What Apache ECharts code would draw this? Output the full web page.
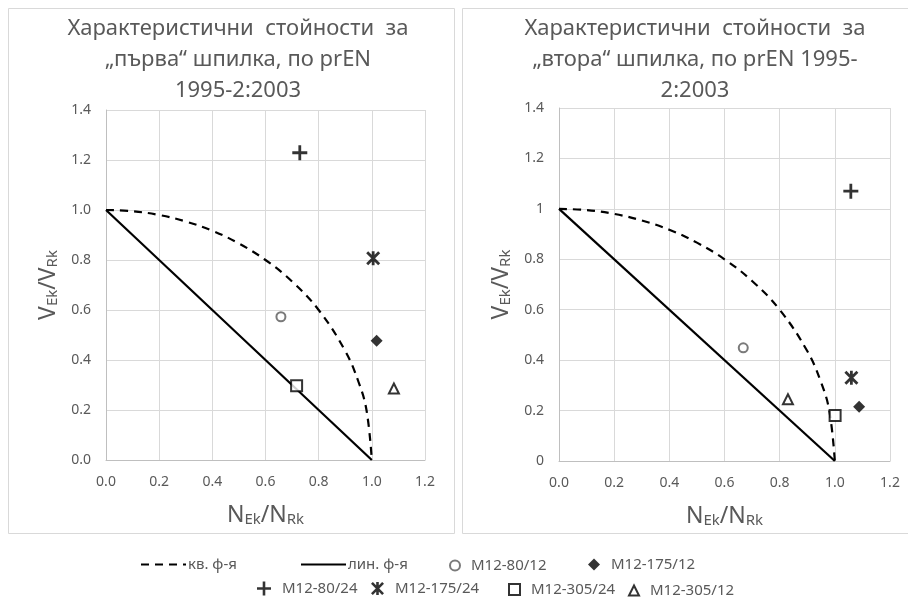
<!DOCTYPE html>
<html>
<head>
<meta charset="utf-8">
<script src="https://cdn.jsdelivr.net/npm/echarts@6/dist/echarts.min.js"></script>
<style>html,body{margin:0;padding:0;background:#fff;}#c{width:908px;height:602px;}</style>
</head>
<body>
<div id="c"></div>
<script>
// ---- data ----
const xTicks = [0, 0.2, 0.4, 0.6, 0.8, 1.0, 1.2];
const yTicks = [0, 0.2, 0.4, 0.6, 0.8, 1.0, 1.2, 1.4];
const titleLeft = 'Характеристични  стойности  за\n„първа“ шпилка, по prEN\n1995-2:2003';
const titleRight = 'Характеристични  стойности  за\n„втора“ шпилка, по prEN 1995-\n2:2003';
// interaction curves
const quadCurve = [[0,1],[0.1,0.995],[0.2,0.98],[0.3,0.954],[0.4,0.917],[0.5,0.866],[0.6,0.8],[0.7,0.714],[0.8,0.6],[0.9,0.436],[0.95,0.312],[0.98,0.199],[1.0,0]];
const linCurve = [[0,1],[1,0]];
// left chart points ("първа")
const L_80_12 = [[0.658, 0.573]];
const L_175_12 = [[1.018, 0.477]];
const L_80_24 = [[0.729, 1.229]];
const L_175_24 = [[1.005, 0.807]];
const L_305_24 = [[0.717, 0.297]];
const L_305_12 = [[1.083, 0.286]];
// right chart points ("втора")
const R_80_12 = [[0.668, 0.449]];
const R_175_12 = [[1.088, 0.215]];
const R_80_24 = [[1.058, 1.07]];
const R_175_24 = [[1.06, 0.33]];
const R_305_24 = [[1.001, 0.18]];
const R_305_12 = [[0.83, 0.245]];

const names = {q:'кв. ф-я', l:'лин. ф-я', a:'M12-80/12', b:'M12-175/12', c:'M12-80/24', d:'M12-175/24', e:'M12-305/24', f:'M12-305/12'};

// ---- styles ----
const FONT = 'Noto Sans';
const GRAY = '#595959';
const plusPath = 'path://M-1.3,-7 L1.3,-7 L1.3,-1.3 L7,-1.3 L7,1.3 L1.3,1.3 L1.3,7 L-1.3,7 L-1.3,1.3 L-7,1.3 L-7,-1.3 L-1.3,-1.3 Z';
const starPath = 'path://M-1.4,-7 L1.4,-7 L1.4,7 L-1.4,7 Z M-5,-7 L7,5 L5,7 L-7,-5 Z M5,-7 L7,-5 L-5,7 L-7,5 Z';

const mk = {
  a: {symbol:'emptyCircle', symbolSize:9, itemStyle:{color:GRAY, borderColor:GRAY, borderWidth:1}},
  b: {symbol:'diamond', symbolSize:12, itemStyle:{color:'#000'}},
  c: {symbol:plusPath, symbolSize:15, itemStyle:{color:'#000'}},
  d: {symbol:starPath, symbolSize:14, itemStyle:{color:'#000'}},
  e: {symbol:'emptyRect', symbolSize:11, itemStyle:{color:'#000', borderColor:'#000', borderWidth:1}},
  f: {symbol:'emptyTriangle', symbolSize:10, itemStyle:{color:'#000', borderColor:'#000', borderWidth:1}}
};

function scat(key, data, idx){
  return Object.assign({type:'scatter', name:names[key], data:data, xAxisIndex:idx, yAxisIndex:idx, z:5}, mk[key]);
}
function lines(idx){
  return [
    {type:'line', name:names.q, data:quadCurve, smooth:0.4, symbol:'none', xAxisIndex:idx, yAxisIndex:idx,
     lineStyle:{color:'#000', width:2.2, type:[8,6]}, itemStyle:{color:'#000'}},
    {type:'line', name:names.l, data:linCurve, symbol:'none', xAxisIndex:idx, yAxisIndex:idx,
     lineStyle:{color:'#000', width:2.2}, itemStyle:{color:'#000'}}
  ];
}
const nameRich = {
  m:{fontFamily:FONT, fontSize:23, color:GRAY, lineHeight:28, verticalAlign:'bottom'},
  s:{fontFamily:FONT, fontSize:15, color:GRAY, lineHeight:20, verticalAlign:'bottom'}
};
function xAx(idx){
  return {type:'value', gridIndex:idx, min:xTicks[0], max:xTicks[xTicks.length-1], interval:0.2,
    axisLine:{show:true, onZero:false, lineStyle:{color:'#bfbfbf'}}, axisTick:{show:false},
    splitLine:{show:true, lineStyle:{color:'#d9d9d9'}},
    axisLabel:{color:GRAY, fontFamily:FONT, fontSize:14, margin:15, formatter:v=>v.toFixed(1)},
    name:'{m|N}{s|Ek}{m|/N}{s|Rk}', nameLocation:'middle', nameGap:39,
    nameTextStyle:{rich:nameRich}
  };
}
function yAx(idx, fmt){
  return {type:'value', gridIndex:idx, min:yTicks[0], max:yTicks[yTicks.length-1], interval:0.2,
    axisLine:{show:true, onZero:false, lineStyle:{color:'#bfbfbf'}}, axisTick:{show:false},
    splitLine:{show:true, lineStyle:{color:'#d9d9d9'}},
    axisLabel:{color:GRAY, fontFamily:FONT, fontSize:14, margin:15, formatter:fmt},
    name:'{m|V}{s|Ek}{m|/V}{s|Rk}', nameLocation:'middle', nameGap:46, nameRotate:90,
    nameTextStyle:{rich:nameRich}
  };
}

const legText = {color:GRAY, fontFamily:FONT, fontSize:15};
function leg(name, left, top, w, h, isLine){
  const o = {data:[isLine ? {name:name, itemStyle:{opacity:0}} : name], left:left, top:top, padding:0,
    itemWidth:w, itemHeight:h, selectedMode:false,
    textStyle:Object.assign({padding:isLine ? [0,0,0,-3] : [0,0,0,6]}, legText)};
  return o;
}

const option = {
  animation:false,
  backgroundColor:'#fff',
  graphic:[
    {type:'rect', shape:{x:8.5, y:8.5, width:446, height:525}, style:{fill:'none', stroke:'#d9d9d9', lineWidth:1}, silent:true, z:-10},
    {type:'rect', shape:{x:462.5, y:8.5, width:450, height:525}, style:{fill:'none', stroke:'#d9d9d9', lineWidth:1}, silent:true, z:-10}
  ],
  title:[
    {text:titleLeft, left:233, top:8, textAlign:'center', textStyle:{fontFamily:FONT, fontSize:22, fontWeight:'normal', color:GRAY, lineHeight:31}},
    {text:titleRight, left:690, top:8, textAlign:'center', textStyle:{fontFamily:FONT, fontSize:22, fontWeight:'normal', color:GRAY, lineHeight:31}}
  ],
  grid:[
    {left:106, top:110, width:319, height:350},
    {left:559, top:108, width:331, height:353}
  ],
  xAxis:[xAx(0), xAx(1)],
  yAxis:[yAx(0, v=>v.toFixed(1)), yAx(1, v=>String(Math.round(v*10)/10))],
  legend:[
    leg(names.q, 140, 557, 45, 14, true),
    leg(names.l, 300, 557, 45, 14, true),
    leg(names.a, 449, 558, 10, 10, false),
    leg(names.b, 588, 557, 12, 12, false),
    leg(names.c, 257, 581, 14, 14, false),
    leg(names.d, 371, 581, 13, 13, false),
    leg(names.e, 508, 582, 11, 11, false),
    leg(names.f, 628, 583, 10, 10, false)
  ],
  series:[
    ...lines(0), ...lines(1),
    scat('a', L_80_12, 0), scat('b', L_175_12, 0), scat('c', L_80_24, 0), scat('d', L_175_24, 0), scat('e', L_305_24, 0), scat('f', L_305_12, 0),
    scat('a', R_80_12, 1), scat('b', R_175_12, 1), scat('c', R_80_24, 1), scat('d', R_175_24, 1), scat('e', R_305_24, 1), scat('f', R_305_12, 1)
  ]
};
const chart = echarts.init(document.getElementById('c'), null, {renderer:'canvas'});
chart.setOption(option);
</script>
</body>
</html>
